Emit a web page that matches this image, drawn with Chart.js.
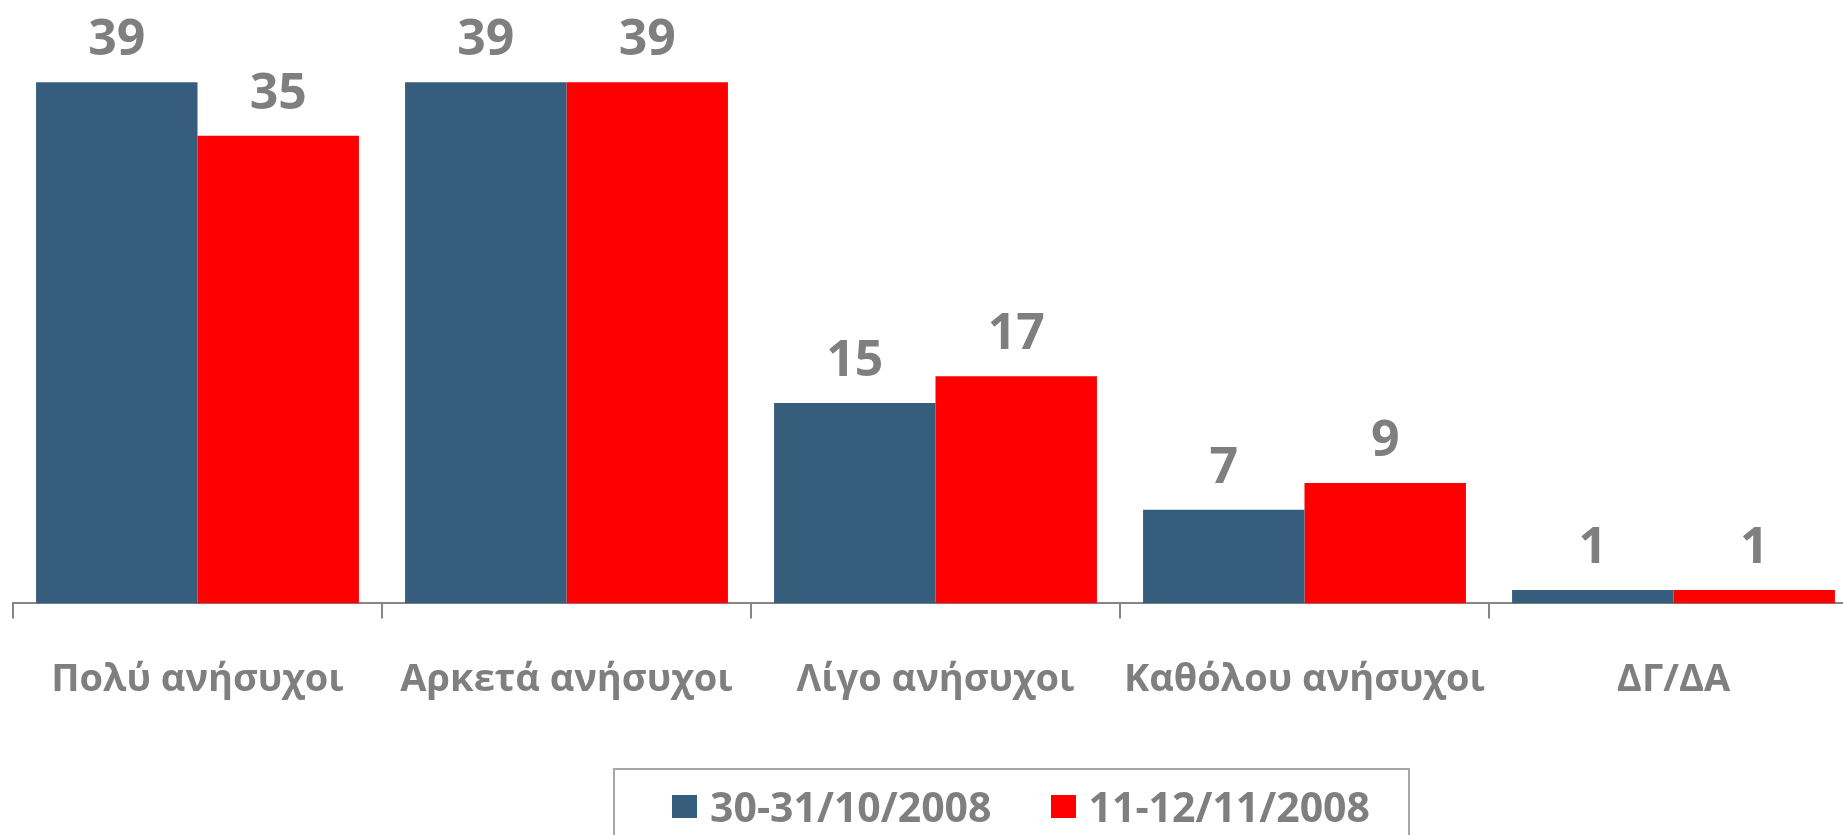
<!DOCTYPE html>
<html>
<head>
<meta charset="utf-8">
<script src="https://cdn.jsdelivr.net/npm/chart.js@4/dist/chart.umd.min.js"></script>
<style>
  html, body { margin: 0; padding: 0; background: #fff; overflow: hidden; width: 1843px; height: 835px; }
  #wrap { position: absolute; left: 0; top: 0; width: 1860px; height: 835px; }
  #legend {
    position: absolute; left: 613px; top: 768px; width: 797px; height: 120px;
    border: 2px solid #a6a6a6; box-sizing: border-box;
    display: flex; align-items: flex-start; padding: 11px 0 0 57px;
    font-family: "Open Sans", sans-serif; font-weight: 700; font-size: 41px; color: #7f7f7f;
    white-space: nowrap;
  }
  #legend .sw { width: 25px; height: 23px; margin-right: 13px; flex: none; }
  #legend .item { display: flex; align-items: center; height: 50px; margin-right: 59px; flex: none; }
</style>
</head>
<body>
<div id="wrap"><canvas id="chart" width="1860" height="835"></canvas></div>
<div id="legend"></div>
<script>
// categories and series
const categories = ['Πολύ ανήσυχοι', 'Αρκετά ανήσυχοι', 'Λίγο ανήσυχοι', 'Καθόλου ανήσυχοι', 'ΔΓ/ΔΑ'];
const seriesNames = ['30-31/10/2008', '11-12/11/2008'];
const oct2008 = [39, 39, 15, 7, 1];
const nov2008 = [35, 39, 17, 9, 1];
const colors = ['#375d7d', '#ff0000'];

const gray = '#7f7f7f';

// draws the value above each bar
const valueLabels = {
    id: 'valueLabels',
    afterDatasetsDraw(chart) {
        const ctx = chart.ctx;
        ctx.save();
        ctx.font = '700 50px "Open Sans"';
        ctx.fillStyle = gray;
        ctx.textAlign = 'center';
        ctx.textBaseline = 'alphabetic';
        chart.data.datasets.forEach((ds, i) => {
            chart.getDatasetMeta(i).data.forEach((bar, j) => {
                ctx.fillText(String(ds.data[j]), bar.x, bar.y - 27);
            });
        });
        ctx.restore();
    }
};

const chart = new Chart(document.getElementById('chart'), {
    type: 'bar',
    data: {
        labels: categories,
        datasets: [
            { label: seriesNames[0], data: oct2008, backgroundColor: colors[0] },
            { label: seriesNames[1], data: nov2008, backgroundColor: colors[1] }
        ]
    },
    options: {
        responsive: false,
        animation: false,
        layout: { padding: { left: 13, right: 2, top: 2, bottom: 93 } },
        datasets: { bar: { barPercentage: 1, categoryPercentage: 0.875 } },
        plugins: { legend: { display: false }, tooltip: { enabled: false } },
        scales: {
            y: { display: false, min: 0, max: 45 },
            x: {
                border: { color: '#868686', width: 2 },
                grid: { color: '#868686', lineWidth: 2, drawOnChartArea: false, tickLength: 15, offset: true },
                ticks: {
                    color: gray,
                    padding: 39,
                    font: { family: '"Open Sans"', weight: '700', size: 38, lineHeight: 1.2 }
                }
            }
        }
    },
    plugins: [valueLabels]
});

// html legend built from the dataset names and colours
const legend = document.getElementById('legend');
seriesNames.forEach((name, i) => {
    const item = document.createElement('div');
    item.className = 'item';
    const sw = document.createElement('div');
    sw.className = 'sw';
    sw.style.background = colors[i];
    const txt = document.createElement('span');
    txt.textContent = name;
    item.appendChild(sw);
    item.appendChild(txt);
    legend.appendChild(item);
});
</script>
</body>
</html>
